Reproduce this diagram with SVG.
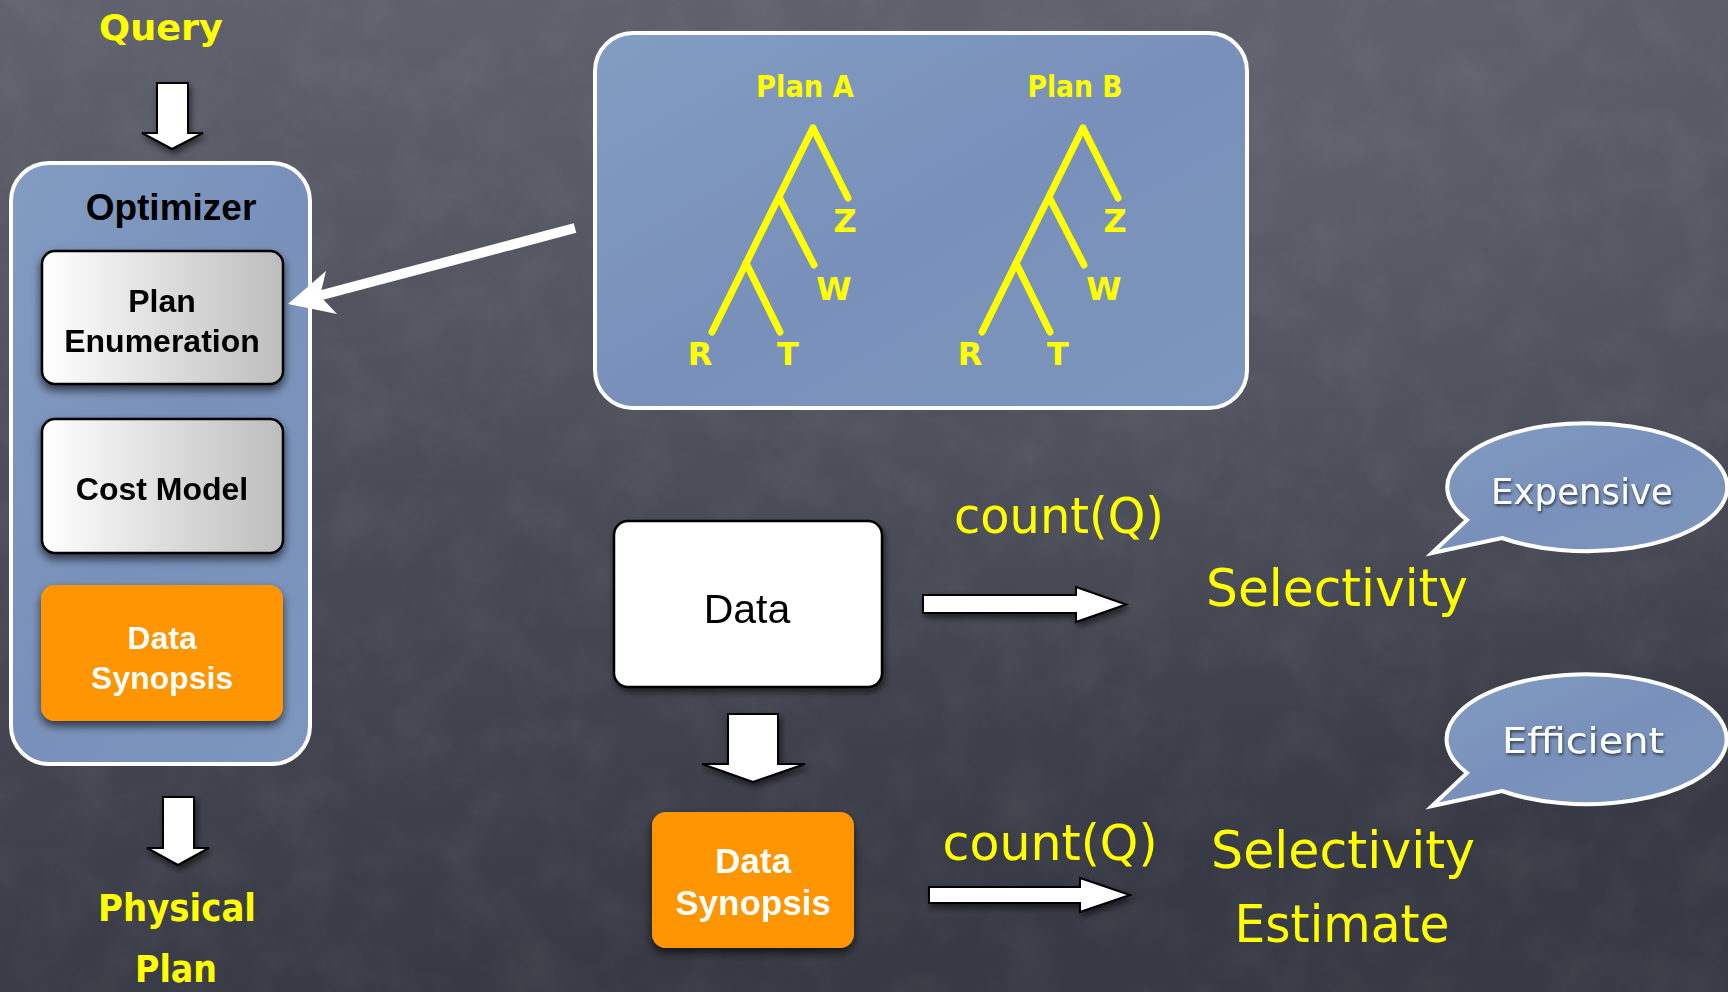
<svg xmlns="http://www.w3.org/2000/svg" width="1728" height="992" viewBox="0 0 1728 992">
  <defs>
    <linearGradient id="board" x1="0" y1="0" x2="0.25" y2="1">
      <stop offset="0" stop-color="#60636e"/>
      <stop offset="0.5" stop-color="#4a4d58"/>
      <stop offset="1" stop-color="#373a44"/>
    </linearGradient>
    <radialGradient id="boardGlow" cx="0.75" cy="0.15" r="0.6">
      <stop offset="0" stop-color="#6a6d78" stop-opacity="0.45"/>
      <stop offset="1" stop-color="#6a6d78" stop-opacity="0"/>
    </radialGradient>
    <linearGradient id="panelBlue" x1="0" y1="0" x2="1" y2="1">
      <stop offset="0" stop-color="#839cc2"/>
      <stop offset="0.5" stop-color="#7991ba"/>
      <stop offset="1" stop-color="#7d96bd"/>
    </linearGradient>
    <linearGradient id="silver" x1="0" y1="0" x2="1" y2="0">
      <stop offset="0" stop-color="#ffffff"/>
      <stop offset="1" stop-color="#bdbdbd"/>
    </linearGradient>
    <!-- mottled chalk dust -->
    <filter id="chalk" x="0" y="0" width="100%" height="100%">
      <feTurbulence type="fractalNoise" baseFrequency="0.018" numOctaves="4" seed="7"/>
      <feColorMatrix type="matrix" values="0 0 0 0 1  0 0 0 0 1  0 0 0 0 1  0 0 0 0.5 -0.2"/>
    </filter>
    <filter id="boxShadow" x="-20%" y="-20%" width="140%" height="150%">
      <feDropShadow dx="0" dy="5" stdDeviation="5" flood-color="#000" flood-opacity="0.65"/>
    </filter>
    <filter id="softShadow" x="-20%" y="-20%" width="140%" height="150%">
      <feDropShadow dx="2" dy="4" stdDeviation="3" flood-color="#000" flood-opacity="0.55"/>
    </filter>
    <filter id="textShadow" x="-10%" y="-30%" width="120%" height="160%">
      <feDropShadow dx="1" dy="2" stdDeviation="1.5" flood-color="#000" flood-opacity="0.6"/>
    </filter>
    <style>
      .chalk { font-family: 'DejaVu Sans', sans-serif; fill: #ffff00; }
      .chalkB { font-family: 'DejaVu Sans', sans-serif; font-weight: bold; fill: #ffff00; }
      .bubbleText { font-family: 'DejaVu Sans', sans-serif; fill: #ffffff; font-size: 35px; }
      .helv { font-family: 'Liberation Sans', Arial, sans-serif; }
      .panel { fill: url(#panelBlue); stroke: #ffffff; stroke-width: 4; }
      .silverBox { fill: url(#silver); stroke: #000000; stroke-width: 2.5; }
      .orangeBox { fill: #ff9500; }
      .blockArrow { fill: #ffffff; stroke: #000000; stroke-width: 2; stroke-linejoin: miter; }
      .tree { stroke: #ffff00; stroke-width: 7; stroke-linecap: round; fill: none; }
      .bubble { fill: url(#panelBlue); stroke: #ffffff; stroke-width: 4; stroke-linejoin: miter; }
    </style>
  </defs>

  <!-- chalkboard -->
  <rect width="1728" height="992" fill="url(#board)"/>
  <rect width="1728" height="992" fill="url(#boardGlow)"/>
  <rect width="1728" height="992" filter="url(#chalk)" opacity="0.18"/>

  <!-- optimizer pipeline -->
  <g id="query">
    <text class="chalkB" x="161" y="40" font-size="36" text-anchor="middle" textLength="124" lengthAdjust="spacingAndGlyphs">Query</text>
  </g>

  <g id="optimizer">
    <rect class="panel" x="11" y="163" width="299" height="601" rx="38"/>
    <text class="helv" x="171" y="220" font-size="37" font-weight="bold" text-anchor="middle" fill="#000">Optimizer</text>
  </g>

  <g id="plan-enumeration" filter="url(#boxShadow)">
    <rect class="silverBox" x="42" y="251" width="241" height="133" rx="13"/>
    <text class="helv" x="162" y="312" font-size="32" font-weight="bold" text-anchor="middle" fill="#000">Plan</text>
    <text class="helv" x="162" y="352" font-size="32" font-weight="bold" text-anchor="middle" fill="#000">Enumeration</text>
  </g>

  <g id="cost-model" filter="url(#boxShadow)">
    <rect class="silverBox" x="42" y="419" width="241" height="134" rx="13"/>
    <text class="helv" x="162" y="500" font-size="32" font-weight="bold" text-anchor="middle" fill="#000">Cost Model</text>
  </g>

  <g id="optimizer-synopsis" filter="url(#boxShadow)">
    <rect class="orangeBox" x="41" y="585" width="242" height="136" rx="14"/>
    <text class="helv" x="162" y="649" font-size="32" font-weight="bold" text-anchor="middle" fill="#fff">Data</text>
    <text class="helv" x="162" y="689" font-size="32" font-weight="bold" text-anchor="middle" fill="#fff">Synopsis</text>
  </g>

  <g id="physical-plan">
    <text class="chalkB" x="177" y="921" font-size="37" text-anchor="middle" textLength="158" lengthAdjust="spacingAndGlyphs">Physical</text>
    <text class="chalkB" x="176" y="982" font-size="37" text-anchor="middle" textLength="82" lengthAdjust="spacingAndGlyphs">Plan</text>
  </g>

  <!-- candidate join trees -->
  <g id="plans">
    <rect class="panel" x="595" y="33" width="652" height="375" rx="38"/>
    <text class="chalkB" x="805" y="97" font-size="31" text-anchor="middle" textLength="98" lengthAdjust="spacingAndGlyphs">Plan  A</text>
    <text class="chalkB" x="1075" y="97" font-size="31" text-anchor="middle" textLength="95" lengthAdjust="spacingAndGlyphs">Plan B</text>
    <g id="plan-a-tree">
      <path class="tree" d="M813 128 L712 332 M813 128 L848 198 M779 197 L814 265 M746 263 L780 332"/>
      <text class="chalkB" x="845" y="232" font-size="32" text-anchor="middle">Z</text>
      <text class="chalkB" x="834" y="300" font-size="32" text-anchor="middle">W</text>
      <text class="chalkB" x="700" y="365" font-size="32" text-anchor="middle">R</text>
      <text class="chalkB" x="788" y="365" font-size="32" text-anchor="middle">T</text>
    </g>
    <g id="plan-b-tree">
      <path class="tree" d="M1083 128 L982 332 M1083 128 L1118 198 M1049 197 L1084 265 M1016 263 L1050 332"/>
      <text class="chalkB" x="1115" y="232" font-size="32" text-anchor="middle">Z</text>
      <text class="chalkB" x="1104" y="300" font-size="32" text-anchor="middle">W</text>
      <text class="chalkB" x="970" y="365" font-size="32" text-anchor="middle">R</text>
      <text class="chalkB" x="1058" y="365" font-size="32" text-anchor="middle">T</text>
    </g>
  </g>

  <!-- exact vs. estimated selectivity -->
  <g id="data" filter="url(#softShadow)">
    <rect x="614" y="521" width="268" height="166" rx="14" fill="#ffffff" stroke="#000" stroke-width="2.5"/>
    <text class="helv" x="747" y="623" font-size="41" text-anchor="middle" fill="#000">Data</text>
  </g>

  <g id="synopsis" filter="url(#boxShadow)">
    <rect class="orangeBox" x="652" y="812" width="202" height="136" rx="14"/>
    <text class="helv" x="753" y="873" font-size="35" font-weight="bold" text-anchor="middle" fill="#fff">Data</text>
    <text class="helv" x="753" y="915" font-size="35" font-weight="bold" text-anchor="middle" fill="#fff">Synopsis</text>
  </g>

  <g id="count-exact">
    <text class="chalk" x="1059" y="533" font-size="50" text-anchor="middle" textLength="210" lengthAdjust="spacingAndGlyphs">count(Q)</text>
  </g>
  <g id="count-estimate">
    <text class="chalk" x="1050" y="860" font-size="50" text-anchor="middle" textLength="215" lengthAdjust="spacingAndGlyphs">count(Q)</text>
  </g>

  <g id="selectivity">
    <text class="chalk" x="1337" y="606" font-size="52" text-anchor="middle" textLength="262" lengthAdjust="spacingAndGlyphs">Selectivity</text>
  </g>
  <g id="selectivity-estimate">
    <text class="chalk" x="1343" y="868" font-size="52" text-anchor="middle" textLength="264" lengthAdjust="spacingAndGlyphs">Selectivity</text>
    <text class="chalk" x="1342" y="942" font-size="52" text-anchor="middle" textLength="215" lengthAdjust="spacingAndGlyphs">Estimate</text>
  </g>

  <g id="expensive-callout">
    <path class="bubble" d="M1467 520 A140 64 0 1 1 1502 538 L1432 553 Z"/>
    <text class="bubbleText" x="1582" y="504" text-anchor="middle" textLength="182" lengthAdjust="spacingAndGlyphs" filter="url(#textShadow)">Expensive</text>
  </g>
  <g id="efficient-callout">
    <path class="bubble" d="M1467 773 A140 65 0 1 1 1502 791 L1432 806 Z"/>
    <text class="bubbleText" x="1583" y="753" text-anchor="middle" textLength="162" lengthAdjust="spacingAndGlyphs" filter="url(#textShadow)">Efficient</text>
  </g>

  <!-- connectors -->
  <g id="connectors">
    <g filter="url(#softShadow)">
      <polygon class="blockArrow" points="157,83 188,83 188,133 203,133 172,149 142,133 157,133"/>
      <polygon class="blockArrow" points="163,797 194,797 194,848 209,848 178,865 147,848 163,848"/>
      <polygon class="blockArrow" points="728,714 778,714 778,764 805,764 753,782 702,764 728,764"/>
      <polygon class="blockArrow" points="923,595 1076,595 1076,587 1126,604.5 1076,622 1076,613 923,613"/>
      <polygon class="blockArrow" points="929,887 1080,887 1080,878 1130,895 1080,912 1080,903 929,903"/>
    </g>
    <g id="plans-to-enumeration">
      <line x1="575" y1="228" x2="318" y2="296" stroke="#ffffff" stroke-width="10"/>
      <polygon points="288,304 326,271 320,296 337,314" fill="#ffffff"/>
    </g>
  </g>
</svg>
